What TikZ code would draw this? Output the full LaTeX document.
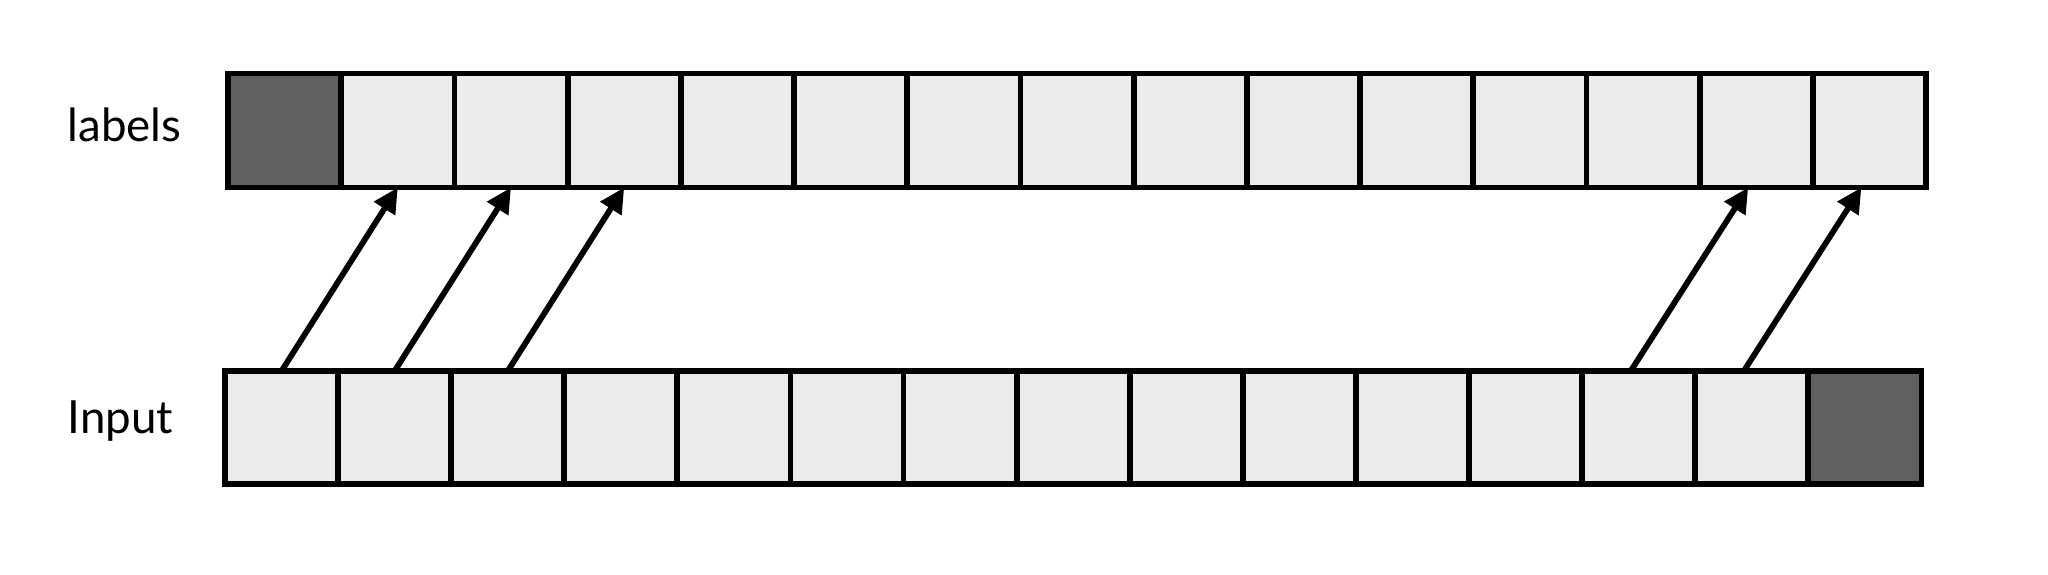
\documentclass[tikz,border=0pt]{standalone}
\usepackage{fontspec}
\setmainfont{Lato}
\usetikzlibrary{arrows.meta,positioning}
\definecolor{CellGray}{HTML}{EBEBEB}
\definecolor{DarkGray}{HTML}{606060}

\begin{document}
\begin{tikzpicture}[
  cell/.style={draw=black,fill=CellGray,line width=0.058cm,minimum width=1.132cm,minimum height=1.14cm,outer sep=0pt,inner sep=0pt},
  darkcell/.style={cell,fill=DarkGray},
  rowlabel/.style={anchor=base west,font=\fontsize{13}{15}\selectfont,inner sep=0pt},
  arrow/.style={-{Triangle[length=0.25cm,width=0.24cm]},line width=0.058cm}
]
\useasboundingbox (0,0) rectangle (20.48,-5.75);
% labels row (top) and input row (bottom)
\foreach \i in {1,...,15}{
  \ifnum\i=1
    \node[darkcell] (t\i) at ({2.28+1.132*(\i-0.5)},-1.305) {};
  \else
    \node[cell] (t\i) at ({2.28+1.132*(\i-0.5)},-1.305) {};
  \fi
  \ifnum\i=15
    \node[darkcell,minimum height=1.13cm] (b\i) at ({2.25+1.131*(\i-0.5)},-4.275) {};
  \else
    \node[cell,minimum height=1.13cm] (b\i) at ({2.25+1.131*(\i-0.5)},-4.275) {};
  \fi
}
\node[rowlabel] (lab) at (0.67,-1.42) {labels};
\node[rowlabel] (inp) at (0.67,-4.34) {Input};
% shifted targets
\foreach \i/\j/\s in {1/2/0,2/3/0,3/4/0,13/14/-0.08,14/15/-0.08}
  \draw[arrow] ([xshift=\s cm]b\i.north) -- ([xshift=\s cm]t\j.south);
\end{tikzpicture}
\end{document}
